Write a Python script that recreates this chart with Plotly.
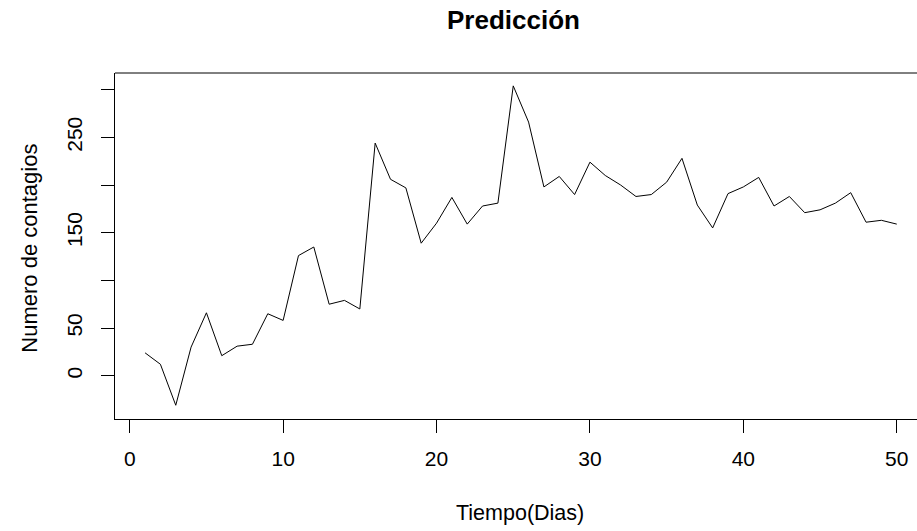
import plotly.graph_objects as go

# Daily predicted infections
dias = list(range(1, 51))
contagios = [24, 12, -31, 30, 66, 21, 31, 33, 65, 58,
             126, 135, 75, 79, 70, 244, 206, 197, 139, 160,
             187, 159, 178, 181, 304, 266, 198, 209, 190, 224,
             210, 200, 188, 190, 203, 228, 179, 155, 191, 198,
             208, 178, 188, 171, 174, 181, 192, 161, 163, 159]

x_ticks = [0, 10, 20, 30, 40, 50]
y_ticks = [0, 50, 100, 150, 200, 250, 300]
y_tick_text = ["0", "50", "", "150", "", "250", ""]

FONT = "Liberation Sans, Arial, sans-serif"

fig = go.Figure()
fig.add_trace(go.Scatter(
    x=dias, y=contagios, mode="lines",
    line=dict(color="black", width=1),
    hoverinfo="skip", showlegend=False,
))

fig.update_layout(
    width=917, height=531,
    margin=dict(l=115, r=0, t=73, b=112, autoexpand=False),
    paper_bgcolor="white", plot_bgcolor="white",
    font=dict(family=FONT, size=21, color="black"),
    xaxis=dict(
        range=[-0.96, 51.32], tickvals=x_ticks,
        ticks="outside", ticklen=13, tickwidth=1, tickcolor="black",
        showline=True, linecolor="black", linewidth=1,
        showgrid=False, zeroline=False, ticklabelstandoff=8,
    ),
    yaxis=dict(
        range=[-45.4, 317.5], tickvals=y_ticks, ticktext=y_tick_text,
        tickangle=-90,
        ticks="outside", ticklen=13, tickwidth=1, tickcolor="black",
        showline=True, linecolor="black", linewidth=1,
        showgrid=False, zeroline=False, ticklabelstandoff=11,
    ),
    shapes=[dict(type="line", xref="paper", yref="paper",
                 x0=0, x1=1, y0=1, y1=1,
                 line=dict(color="black", width=1))],
    annotations=[
        dict(text="<b>Predicción</b>", xref="paper", yref="paper",
             x=0.4975, y=1.153, showarrow=False,
             xanchor="center", yanchor="middle",
             font=dict(size=26, family=FONT, color="black")),
        dict(text="Tiempo(Dias)", xref="paper", yref="paper",
             x=0.505, y=-0.272, showarrow=False,
             xanchor="center", yanchor="middle",
             font=dict(size=21.5, family=FONT, color="black")),
        dict(text="Numero de contagios", xref="paper", yref="paper",
             x=-0.106, y=0.495, showarrow=False, textangle=-90,
             xanchor="center", yanchor="middle",
             font=dict(size=22, family=FONT, color="black")),
    ],
)

fig.write_html("out.html")
